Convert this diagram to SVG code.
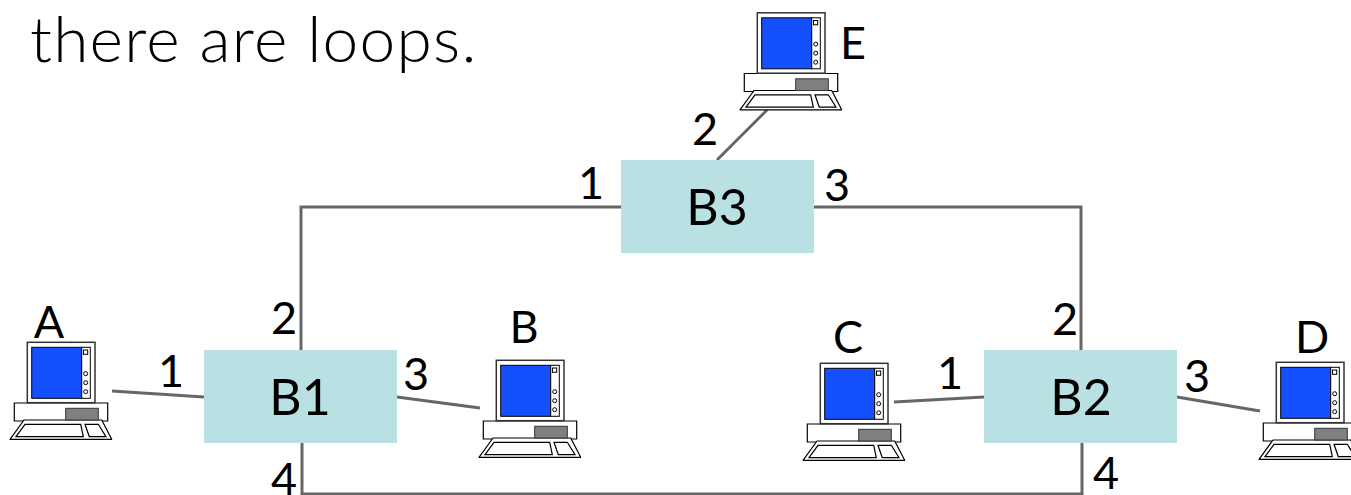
<svg xmlns="http://www.w3.org/2000/svg" xmlns:xlink="http://www.w3.org/1999/xlink" width="1351" height="495" viewBox="0 0 1351 495">
<style>
.t{font-family:Lato,"Liberation Sans",sans-serif;fill:#000}
.p{font-size:45px;text-anchor:middle}
.n{font-size:50px;text-anchor:middle}
.title{font-size:64px;font-weight:300;letter-spacing:1.250px}
.br{fill:#b9e0e3}
.c{fill:none;stroke:#666;stroke-width:3}
.o{fill:#fff;stroke:#000;stroke-width:1.2}
</style>
<defs>
<g id="pc">
<path d="M4.300 62H97.700V80H4.300Z" class="o"/>
<path d="M0 98.300L14 79H91.700L101.700 98.300Z" class="o" stroke-linejoin="round" stroke-width="1.500"/>
<path d="M6 95.700L15 83.300H70.700L73.300 95.700Z" class="o"/>
<path d="M79.300 95.700L75 83.300H88.300L96 95.700Z" class="o"/>
<rect x="55.700" y="67.300" width="32.600" height="11.700" fill="#808080" stroke="#333" stroke-width="1"/>
<rect x="17.300" y="1.300" width="67.700" height="60.400" fill="#fff" stroke="#333" stroke-width="1.500"/>
<rect x="21.700" y="6.300" width="50" height="51" fill="#1550ff" stroke="#000" stroke-width="1"/>
<rect x="71.700" y="6.300" width="8.600" height="51" fill="#fff" stroke="#000" stroke-width="1"/>
<rect x="73.500" y="9" width="4.200" height="4.300" fill="#fff" stroke="#000" stroke-width="1"/>
<circle cx="75.700" cy="32.700" r="2" fill="#fff" stroke="#000" stroke-width="1"/>
<circle cx="75.700" cy="41.700" r="2" fill="#fff" stroke="#000" stroke-width="1"/>
<circle cx="75.700" cy="50.700" r="2" fill="#fff" stroke="#000" stroke-width="1"/>
</g>
</defs>
<text class="t title" x="30" y="62">there are loops.</text>
<g id="connectors">
<path class="c" d="M621 207H301V350"/>
<path class="c" d="M814 207H1081V350"/>
<path class="c" d="M302 443V494H1082V443"/>
<path class="c" d="M112 391L204 397"/>
<path class="c" d="M397 397L480 408"/>
<path class="c" d="M894 402L984 397"/>
<path class="c" d="M1177 397L1260 411"/>
<path class="c" d="M767 110L717 160"/>
</g>
<g id="B1"><rect class="br" x="204" y="350" width="193" height="93"/><text class="t n" x="300" y="415">B1</text></g>
<g id="B2"><rect class="br" x="984" y="350" width="193" height="93"/><text class="t n" x="1081" y="415">B2</text></g>
<g id="B3"><rect class="br" x="621" y="160" width="193" height="93"/><text class="t n" x="717" y="225">B3</text></g>
<g id="A"><use xlink:href="#pc" href="#pc" x="10" y="341"/><text class="t p" x="49" y="338">A</text></g>
<g id="B"><use xlink:href="#pc" href="#pc" x="479" y="359"/><text class="t p" x="524" y="343">B</text></g>
<g id="C"><use xlink:href="#pc" href="#pc" x="803" y="362"/><text class="t p" x="848" y="353">C</text></g>
<g id="D"><use xlink:href="#pc" href="#pc" x="1259" y="361"/><text class="t p" x="1312" y="353">D</text></g>
<g id="E"><use xlink:href="#pc" href="#pc" x="740" y="11.500"/><text class="t p" x="853" y="59">E</text></g>
<g id="ports">
<text class="t p" x="171" y="387">1</text>
<text class="t p" x="284" y="334">2</text>
<text class="t p" x="416" y="390">3</text>
<text class="t p" x="284" y="495">4</text>
<text class="t p" x="950" y="389">1</text>
<text class="t p" x="1065" y="335">2</text>
<text class="t p" x="1197" y="392">3</text>
<text class="t p" x="1106" y="489">4</text>
<text class="t p" x="591" y="199">1</text>
<text class="t p" x="705" y="145">2</text>
<text class="t p" x="837" y="201">3</text>
</g>
</svg>
